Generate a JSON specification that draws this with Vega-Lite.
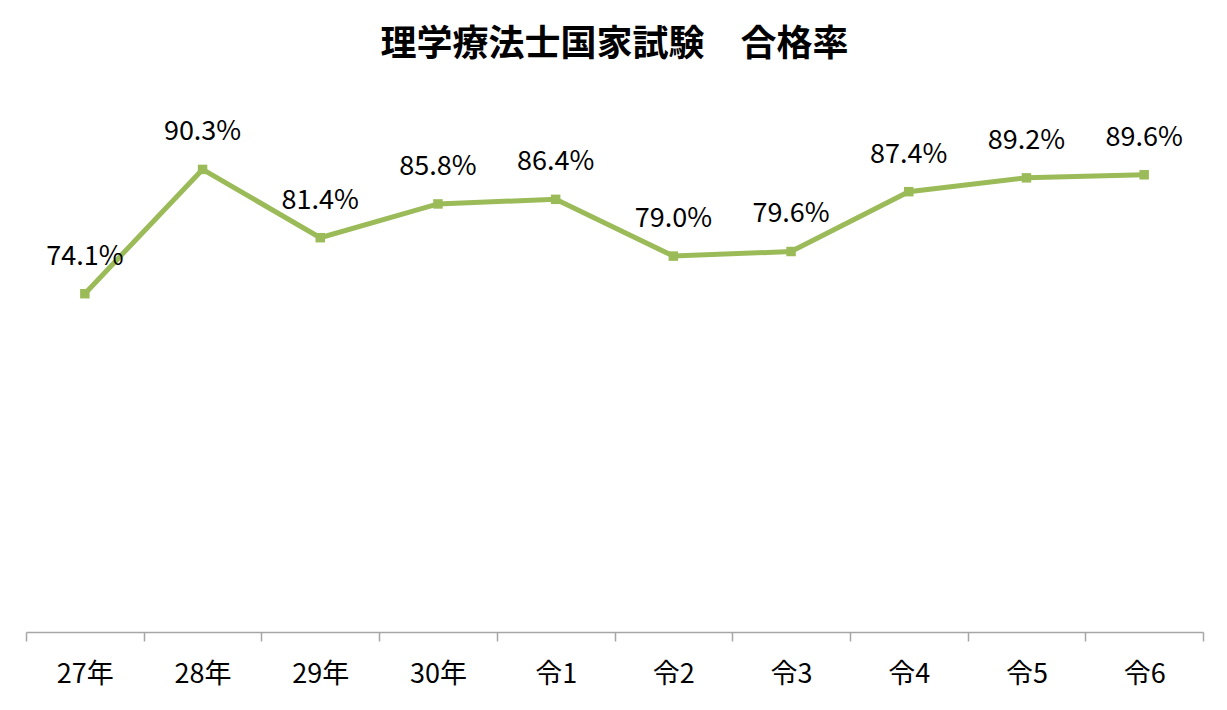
{
  "$schema": "https://vega.github.io/schema/vega-lite/v6.json",
  "width": 1177,
  "height": 537,
  "padding": {"left": 25, "top": 27, "right": 25, "bottom": 10},
  "background": "white",
  "config": {"view": {"stroke": null}, "font": "Noto Sans CJK JP"},
  "title": {
    "text": "理学療法士国家試験　合格率",
    "fontSize": 36,
    "fontWeight": "bold",
    "font": "Noto Sans CJK JP",
    "color": "#000000",
    "anchor": "middle",
    "offset": 27,
    "dy": -4
  },
  "data": {
    "values": [
      {"year": "27年", "rate": 0.741},
      {"year": "28年", "rate": 0.903},
      {"year": "29年", "rate": 0.814},
      {"year": "30年", "rate": 0.858},
      {"year": "令1", "rate": 0.864},
      {"year": "令2", "rate": 0.790},
      {"year": "令3", "rate": 0.796},
      {"year": "令4", "rate": 0.874},
      {"year": "令5", "rate": 0.892},
      {"year": "令6", "rate": 0.896}
    ]
  },
  "encoding": {
    "x": {
      "field": "year",
      "type": "ordinal",
      "sort": null,
      "scale": {"type": "band", "paddingInner": 0, "paddingOuter": 0},
      "axis": {
        "title": null,
        "labelAngle": 0,
        "labelFontSize": 27,
        "labelColor": "#000000",
        "labelPadding": 20,
        "domainColor": "#a6a6a6",
        "domainWidth": 1.5,
        "tickColor": "#a6a6a6",
        "tickWidth": 1.5,
        "tickSize": 9,
        "tickBand": "extent"
      }
    },
    "y": {
      "field": "rate",
      "type": "quantitative",
      "scale": {"domain": [0.3, 1.0], "nice": false, "zero": false},
      "axis": null
    }
  },
  "layer": [
    {"mark": {"type": "line", "color": "#9BBB59", "strokeWidth": 5}},
    {"mark": {"type": "point", "shape": "square", "filled": true, "size": 90, "color": "#9BBB59", "opacity": 1}},
    {
      "mark": {"type": "text", "fontSize": 27, "dy": -37, "color": "#000000", "font": "Noto Sans CJK JP"},
      "encoding": {"text": {"field": "rate", "type": "quantitative", "format": ".1%"}}
    }
  ]
}
